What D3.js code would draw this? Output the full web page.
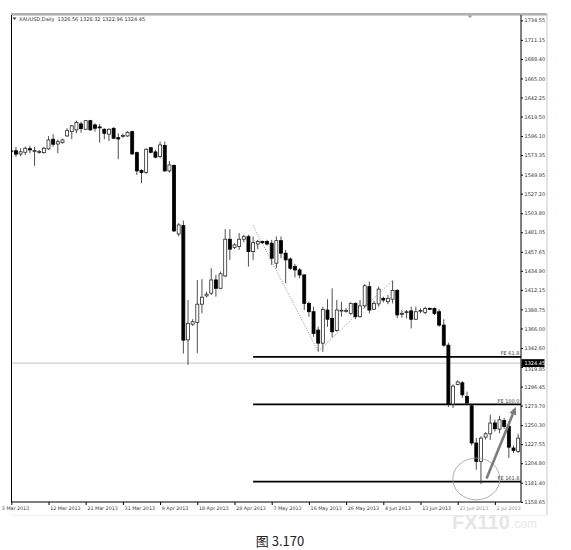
<!DOCTYPE html>
<html><head><meta charset="utf-8">
<script src="https://cdn.jsdelivr.net/npm/d3@7"></script>
<style>body{margin:0;background:#fff}svg{display:block}</style>
</head><body>
<svg id="chart" width="571" height="550"></svg>
<script>
// ---- data ----
const opens  = [1578,1578.5,1574.6,1576.7,1581,1578,1577,1576.3,1580.7,1592.3,1586.6,1588.2,1596.2,1601.4,1603.4,1610.6,1604.2,1614.5,1609.4,1607,1604.2,1598.3,1605.4,1594.2,1596,1596.2,1601.4,1576.3,1554.8,1552.4,1582.2,1577.1,1571.5,1584.7,1554.4,1561,1479,1489,1352.3,1371,1373,1395,1405,1408.2,1424,1414,1428.8,1472.7,1463,1463.9,1472.7,1475.8,1457.9,1467,1470,1470,1468,1444,1471,1456,1449,1440,1436,1430,1396,1386,1364,1348.4,1388,1378,1363.4,1387,1387,1384,1396,1380,1393,1416,1389,1395.4,1402,1398,1401,1411.3,1383,1385,1387,1377,1387,1385,1390,1390,1386,1370,1346,1275.6,1299,1301,1284.5,1273.5,1229,1207,1236,1240,1253,1245.6,1255.8,1248.7,1223,1218.8];
const highs  = [1580,1583,1581.5,1583.5,1584.5,1583,1579.5,1583,1596,1598.3,1592,1593,1605.5,1609.4,1614.5,1613.3,1615.3,1615.5,1611.4,1610.6,1605.4,1605.4,1606.6,1599.4,1599,1602,1602.6,1577.5,1556.4,1581.5,1582.5,1579.5,1589.4,1589.4,1566.3,1562,1492,1495,1400,1377,1424,1425,1410,1438,1430,1434,1484.7,1484.7,1468,1480,1478,1478,1475.8,1472,1471,1472,1472,1476,1476,1460,1451,1443,1438,1431,1398,1392,1368,1392,1401,1414,1400,1398,1390,1397,1397,1400,1419,1422,1399,1416,1404,1406,1423.3,1413,1388,1388,1392,1392,1390,1392,1391,1391,1389,1377,1349,1299,1304,1303,1290.5,1275,1235,1237,1242,1262.7,1257,1261.5,1259,1254.7,1226,1240];
const lows   = [1576,1571,1572,1573.5,1575.5,1560.5,1575,1575,1579.5,1583.4,1575.5,1587,1595.4,1592.3,1599.4,1600,1603.4,1602.5,1601.4,1588.2,1592.3,1590.2,1592.3,1568.5,1594,1595,1573.5,1549.6,1539.7,1550.8,1575.5,1569.6,1569.6,1553.6,1552.4,1481.5,1476,1336,1322.5,1369,1336.4,1384.3,1403,1406,1404,1413,1427.3,1448,1461,1460,1469,1440,1448,1461,1467,1465,1442,1438,1450,1420,1436,1427,1426,1388,1380,1356,1338.3,1338,1368,1355.5,1362,1380,1385,1382,1377,1379,1390,1384,1388,1392,1397,1395,1396,1378.3,1379,1378,1366,1376,1384,1383,1388,1382,1368,1344,1272,1271,1298,1283,1274,1226,1197,1180,1233,1232.7,1242.7,1240.8,1246,1211,1217,1217];
const closes = [1578.5,1574.5,1577.3,1581.5,1579.5,1578.8,1577.6,1581.5,1591.4,1586.3,1589.4,1591.4,1602.6,1608.2,1612.2,1605,1614.5,1603.5,1605.4,1606.3,1599.4,1604.2,1593.5,1592.6,1596.8,1600.6,1574.7,1554.4,1552.4,1580.3,1576.7,1570.8,1585.5,1554.4,1561.6,1482.6,1489.8,1352,1372,1374,1395,1403.4,1407,1424,1414,1431.3,1472.7,1460.8,1466,1472.7,1475.8,1457.9,1468.6,1470,1468.5,1467,1450,1471,1456,1448,1438,1436,1430,1396,1386,1360,1348.4,1388.8,1377,1362,1388,1387.8,1387.5,1396,1380,1393,1417,1388,1396,1413,1400,1402,1411.3,1382.2,1384,1386,1377,1386,1387.6,1390,1389.5,1384,1370,1346,1275.6,1297,1302,1286.6,1276.7,1229,1207,1234.8,1240,1252.8,1246,1256.7,1248.7,1224,1220,1234.8];

const yTickValues = [1734.55,1711.15,1688.40,1665.00,1642.25,1619.50,1596.10,1573.35,1549.95,1527.20,1503.80,1481.05,1457.65,1434.90,1412.15,1388.75,1366.00,1342.60,1319.85,1296.45,1273.70,1250.30,1227.55,1204.80,1181.40,1158.65];
const xTickIndex  = [0,8,16,24,32,40,48,56,64,72,80,88,96,104];
const xTickLabels = ["3 Mar 2013","12 Mar 2013","21 Mar 2013","31 Mar 2013","9 Apr 2013","18 Apr 2013","28 Apr 2013","7 May 2013","16 May 2013","26 May 2013","4 Jun 2013","13 Jun 2013","23 Jun 2013","2 Jul 2013"];

const feLevels = [1332.1, 1275.2, 1182.7];
const feLabels = ["FE 61.8", "FE 100.0", "FE 161.8"];
const feStartIndex = 52;
const fePathIndex = [52, 66, 82];
const fePathPrice = [1489, 1338.5, 1423.5];
const arrowIndex = [102.2, 108.5];
const arrowPrice = [1186.5, 1272.4];
const ellipseCenter = [100, 1186];
const ellipseHalfBars = 5.05;
const ellipseHalfPrice = 25;

const titleText = "XAUUSD,Daily  1326.56 1328.32 1322.96 1324.45";
const lastPrice = 1324.45;
const caption = "图 3.170";

// ---- layout ----
const L = 11.5, R = 521, T = 15, B = 502;
const svg = d3.select("#chart");
const x = d3.scaleLinear().domain([0, 109]).range([11.3, 518.15]);
const y = d3.scaleLinear().domain([1158.65, 1734.55]).range([501.8, 20.3]);
const font = "'DejaVu Sans', Verdana, sans-serif";

// outer frame
svg.append("rect").attr("x", 11).attr("y", 13).attr("width", 536).attr("height", 1.2).attr("fill", "#b0b0b0");
svg.append("rect").attr("x", 11).attr("y", 14.4).attr("width", 536).attr("height", 1).attr("fill", "#8c8c8c");
svg.append("line").attr("x1", 547).attr("x2", 547).attr("y1", 13).attr("y2", 515).attr("stroke", "#c8c8c8").attr("stroke-width", 1);
svg.append("line").attr("x1", 11).attr("x2", 547).attr("y1", 515.5).attr("y2", 515.5).attr("stroke", "#efefef").attr("stroke-width", 1);

svg.append("defs").append("clipPath").attr("id", "plot")
  .append("rect").attr("x", L).attr("y", T).attr("width", R - L).attr("height", B - T);

// watermark (behind everything else)
svg.append("text").attr("x", 452).attr("y", 529).attr("font-family", "'Liberation Sans', Arial, sans-serif")
  .attr("font-weight", "bold").attr("font-size", 20).attr("fill", "#e6e6e6").text("FX110");
svg.append("text").attr("x", 511).attr("y", 528).attr("font-family", "'Liberation Sans', Arial, sans-serif")
  .attr("font-size", 12).attr("fill", "#e8e8e8").text(".com");

const g = svg.append("g").attr("clip-path", "url(#plot)");

// current price line
g.append("line").attr("x1", L).attr("x2", R).attr("y1", y(lastPrice)).attr("y2", y(lastPrice))
  .attr("stroke", "#cfcfcf").attr("stroke-width", 1.3);

// FE levels
feLevels.forEach((v, k) => {
  g.append("line").attr("x1", x(feStartIndex)).attr("x2", R).attr("y1", y(v)).attr("y2", y(v))
    .attr("stroke", "#000").attr("stroke-width", 1.7);
  svg.append("text").attr("x", 519.5).attr("y", y(v) - 1.6).attr("text-anchor", "end")
    .attr("font-family", font).attr("font-size", 5).attr("fill", "#444").text(feLabels[k]);
});

// dotted FE path
g.append("path")
  .attr("d", d3.line().x(d => x(d[0])).y(d => y(d[1]))(fePathIndex.map((d, k) => [d, fePathPrice[k]])))
  .attr("fill", "none").attr("stroke", "#7a7a7a").attr("stroke-width", 0.8).attr("stroke-dasharray", "1,1.4");

// candles
const idx = d3.range(opens.length);
const cg = g.append("g");
cg.selectAll("line.wick").data(idx).join("line").attr("class", "wick")
  .attr("x1", i => x(i)).attr("x2", i => x(i))
  .attr("y1", i => y(highs[i])).attr("y2", i => y(lows[i]))
  .attr("stroke", "#3a3a3a").attr("stroke-width", 0.9);
cg.selectAll("rect.body").data(idx).join("rect").attr("class", "body")
  .attr("x", i => x(i) - 1.5).attr("width", 3)
  .attr("y", i => y(Math.max(opens[i], closes[i])))
  .attr("height", i => Math.max(0.9, Math.abs(y(opens[i]) - y(closes[i]))))
  .attr("fill", i => closes[i] >= opens[i] ? "#fff" : "#000")
  .attr("stroke", i => closes[i] >= opens[i] ? "#2a2a2a" : "#000")
  .attr("stroke-width", 0.8);

// ellipse
g.append("ellipse")
  .attr("cx", x(ellipseCenter[0])).attr("cy", y(ellipseCenter[1]))
  .attr("rx", x(ellipseHalfBars) - x(0))
  .attr("ry", y(ellipseCenter[1] - ellipseHalfPrice) - y(ellipseCenter[1]))
  .attr("fill", "none").attr("stroke", "#9a9a9a").attr("stroke-width", 0.8);

// arrow
const ax1 = x(arrowIndex[0]), ay1 = y(arrowPrice[0]), ax2 = x(arrowIndex[1]), ay2 = y(arrowPrice[1]);
const ang = Math.atan2(ay2 - ay1, ax2 - ax1);
const hl = 8, hw = 3.6;
const bx = ax2 - hl * Math.cos(ang), by = ay2 - hl * Math.sin(ang);
g.append("line").attr("x1", ax1).attr("y1", ay1).attr("x2", bx).attr("y2", by)
  .attr("stroke", "#7d7d7d").attr("stroke-width", 2.6);
g.append("path").attr("d", `M${ax2},${ay2}L${bx + hw * Math.sin(ang)},${by - hw * Math.cos(ang)}L${bx - hw * Math.sin(ang)},${by + hw * Math.cos(ang)}Z`)
  .attr("fill", "#7d7d7d");

// plot frame
svg.append("line").attr("x1", L).attr("x2", L).attr("y1", T).attr("y2", B).attr("stroke", "#000").attr("stroke-width", 1);
svg.append("line").attr("x1", L).attr("x2", R).attr("y1", B).attr("y2", B).attr("stroke", "#000").attr("stroke-width", 1);

// right axis
const yAxis = svg.append("g").attr("transform", `translate(${R},0)`)
  .call(d3.axisRight(y).tickValues(yTickValues).tickSize(2).tickPadding(1.5).tickFormat(d3.format(".2f")));
yAxis.select(".domain").attr("stroke", "#000").attr("d", `M0,${T}V${B}`);
yAxis.selectAll("line").attr("stroke", "#000");
yAxis.selectAll("text").attr("font-family", font).attr("font-size", 5).attr("fill", "#333")
  .attr("dy", d => Math.abs(d - 1319.85) < 0.01 ? "0.72em" : "0.32em");

// price box
svg.append("rect").attr("x", R + 0.5).attr("y", y(lastPrice) - 4).attr("width", 23).attr("height", 7.8).attr("fill", "#000");
svg.append("text").attr("x", R + 3.5).attr("y", y(lastPrice) + 1.6).attr("font-family", font)
  .attr("font-size", 5).attr("fill", "#fff").text(d3.format(".2f")(lastPrice));

// bottom axis
const xAxis = svg.append("g").attr("transform", `translate(0,${B})`)
  .call(d3.axisBottom(x).tickValues(xTickIndex).tickSize(3).tickPadding(1.5).tickFormat((d, k) => xTickLabels[k]));
xAxis.select(".domain").remove();
xAxis.selectAll("line").attr("stroke", "#000");
xAxis.selectAll("text").attr("text-anchor", "start").attr("x", (d, k) => k === 0 ? -10 : 1.2)
  .attr("font-family", font).attr("font-size", 4.8).attr("fill", (d, k) => k >= 12 ? "#8a8a8a" : "#333");

// title
svg.append("path").attr("d", "M12.5,17.5h4l-2,2.5z").attr("fill", "#333");
svg.append("text").attr("x", 19).attr("y", 21).attr("font-family", font).attr("font-size", 5)
  .attr("fill", "#333").attr("xml:space", "preserve").style("white-space", "pre").text(titleText);
// shift marker
svg.append("path").attr("d", "M467.5,15.5h5l-2.5,2.5z").attr("fill", "#9a9a9a");

// caption
svg.append("text").attr("x", 280).attr("y", 546).attr("text-anchor", "middle")
  .attr("font-family", "'Noto Sans CJK SC', 'Noto Sans', sans-serif").attr("font-size", 13).attr("fill", "#222").text(caption);
</script>
</body></html>
